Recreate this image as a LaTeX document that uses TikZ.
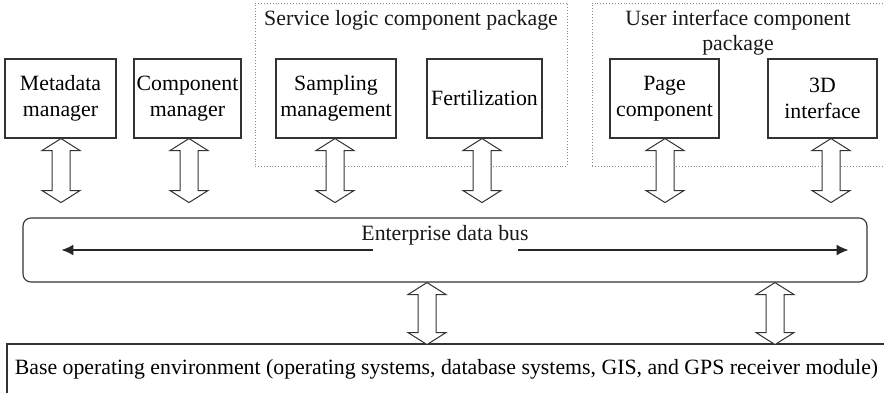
\documentclass[tikz,border=0pt]{standalone}
\usepackage{fontspec}
\setmainfont{Liberation Serif}
\usetikzlibrary{calc,arrows.meta}
\newcommand\dblarr[3]{%
  \draw[dblstyle] (#1) ++(#2,0) -- ++(19,12) -- ++(-10,0) -- ++(0,#3-24) -- ++(10,0)
    -- ++(-19,12) -- ++(-19,-12) -- ++(10,0) -- ++(0,-#3+24) -- ++(-10,0) -- cycle;}
\begin{document}
\begin{tikzpicture}[x=1pt,y=-1pt,
  font=\fontsize{21.8}{25.5}\selectfont,
  box/.style={draw=black!80, line width=1.1pt, minimum height=79, inner sep=0pt, align=center},
  pkg/.style={draw=black!45, dotted, line width=0.9pt, inner sep=0pt},
  dblstyle/.style={draw=black!80, line width=1pt, fill=white},
  busarr/.style={-{Latex[length=12pt,width=11pt]}, line width=1.6pt, draw=black!85},
  txt/.style={inner sep=0pt, align=center, text=black!90}]
\useasboundingbox (0,0) rectangle (884,392);
\clip (0,0) rectangle (884,392);
% packages
\node[pkg, minimum width=312, minimum height=163] (svc) at (411,84.5) {};
\node[txt] (svcT) at (411,20) {Service logic component package};
\node[pkg, minimum width=303, minimum height=163] (ui) at (743.5,84.5) {};
\node[txt] (uiT) at (738,32.5) {User interface component\\package};
% component boxes
\node[box, minimum width=111] (meta) at (60.5,98.5) {Metadata\\manager};
\node[box, minimum width=107] (comp) at (187.5,98.5) {Component\\manager};
\node[box, minimum width=120] (samp) at (336,98.5) {Sampling\\management};
\node[box, minimum width=115] (fert) at (484.5,98.5) {Fertilization};
\node[box, minimum width=109] (page) at (664.5,98.5) {Page\\component};
\node[box, minimum width=109] (d3) at (822.5,98.5) {3D\\interface};
% bus
\node[draw=black!80, line width=1.1pt, rounded corners=8pt, minimum width=844, minimum height=64, inner sep=0pt] (bus) at (445,250) {};
\node[txt] (busT) at (445,235) {Enterprise data bus};
\draw[busarr] ($(bus.center)+(-72,0)$) -- ($(bus.west)+(39,0)$);
\draw[busarr] ($(bus.center)+(73,0)$) -- ($(bus.east)+(-19,0)$);
% base
\node[draw=black!80, line width=1.1pt, minimum width=879, minimum height=50, inner sep=0pt] (base) at (446.5,369) {Base operating environment (operating systems, database systems, GIS, and GPS receiver module)};
% double arrows
\dblarr{meta.south}{0.5}{64}
\dblarr{comp.south}{1.5}{64}
\dblarr{samp.south}{-1}{64}
\dblarr{fert.south}{-2.5}{64}
\dblarr{page.south}{0.5}{64}
\dblarr{d3.south}{8.5}{64}
\dblarr{bus.south}{-18}{62}
\dblarr{bus.south}{330}{62}
\end{tikzpicture}
\end{document}
